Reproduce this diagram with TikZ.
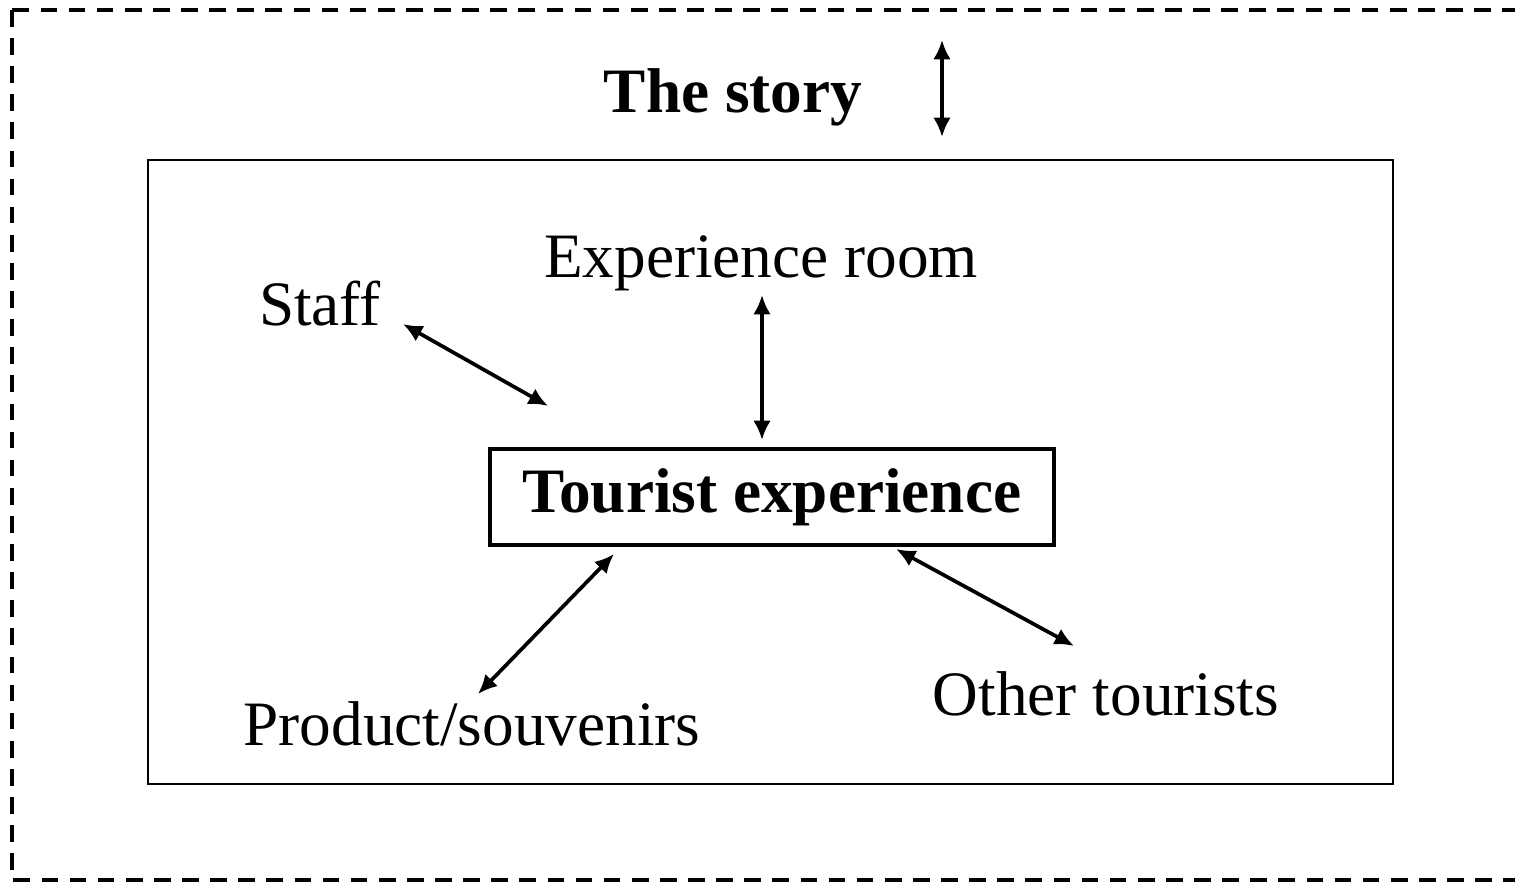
\documentclass[tikz,border=0pt]{standalone}
\usepackage{fontspec}
\setmainfont{Liberation Serif}
\usepackage{tikz}
\usetikzlibrary{arrows.meta}
\usetikzlibrary{positioning}
\tikzset{main/.style={draw=black, line width=2.1pt, inner xsep=18.8pt, inner ysep=11pt, font=\fontsize{36}{43}\selectfont\bfseries},
	label/.style={font=\fontsize{36}{43}\selectfont, inner sep=0pt},
	link/.style={line width=2.1pt, {Latex[length=11pt,width=10pt]}-{Latex[length=11pt,width=10pt]}}}

\begin{document}
\begin{tikzpicture}[x=0.02cm, y=-0.02cm]
		\useasboundingbox (0,0) rectangle (1515,882);
		\clip (0,0) rectangle (1515,882);
		\draw[line width=2pt, dash pattern=on 9.5pt off 6.5pt] (12,10) rectangle (1540,880);
		\draw[line width=1.3pt] (148,160) rectangle (1393,784);
		
		\node[main] (T) at (772,497) {Tourist experience};
		\node[label, font=\fontsize{36}{43}\selectfont\bfseries] (S) at (733,97) {The story};
		\node[label] (R) at (761,263) {Experience room};
		\node[label] (F) at (320,304) {Staff};
		\node[label] (P) at (472,724) {Product/souvenirs};
		\node[label] (O) at (1106,694) {Other tourists};
		
		\coordinate (s1) at (942,40); \coordinate (s2) at (942,137);
		\coordinate (r1) at (762,295); \coordinate (r2) at (762,440);
		\coordinate (f1) at (403,324); \coordinate (f2) at (548,406);
		\coordinate (p1) at (478,694); \coordinate (p2) at (614,554);
		\coordinate (o1) at (1074,646); \coordinate (o2) at (896,549);
		
		\begin{scope}[link]
			\draw (s1) -- (s2);
			\draw (r1) -- (r2);
			\draw (f1) -- (f2);
			\draw (p1) -- (p2);
			\draw (o1) -- (o2);
		\end{scope}
	\end{tikzpicture}
\end{document}
